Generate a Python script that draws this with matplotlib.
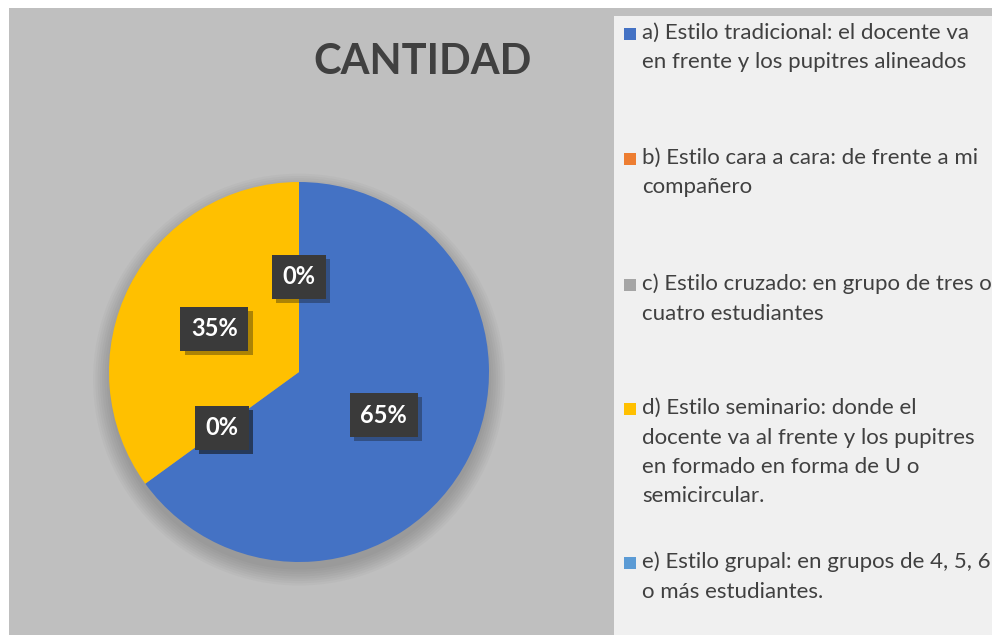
import numpy as np
import matplotlib.pyplot as plt
from matplotlib.patches import Rectangle, Circle
import matplotlib.patheffects as pe

plt.rcParams['font.family'] = ['Lato', 'DejaVu Sans']

# ---- data ----
categorias = [
    "a) Estilo tradicional: el docente va\nen frente y los pupitres alineados",
    "b) Estilo cara a cara: de frente a mi\ncompañero",
    "c) Estilo cruzado: en grupo de tres o\ncuatro estudiantes",
    "d) Estilo seminario: donde el\ndocente va al frente y los pupitres\nen formado en forma de U o\nsemicircular.",
    "e) Estilo grupal: en grupos de 4, 5, 6\no más estudiantes.",
]
cantidad = [13, 0, 0, 7, 0]
colores = ["#4472c4", "#ed7d31", "#a5a5a5", "#ffc000", "#5b9bd5"]
titulo = "CANTIDAD"

W, H = 992, 635
fig = plt.figure(figsize=(W / 100, H / 100), dpi=100, facecolor="white")

def px(x, y):
    return x / W, 1 - y / H

# background panels
fig.patches.append(Rectangle((9 / W, 0), 1, 1 - 8 / H, transform=fig.transFigure,
                             facecolor="#bfbfbf", edgecolor="none", zorder=-2))
fig.patches.append(Rectangle((614 / W, 0), 1, 1 - 16 / H, transform=fig.transFigure,
                             facecolor="#f0f0f0", edgecolor="none", zorder=-1))

# pie
cx, cy, r = 299, 372, 190
ax = fig.add_axes([(cx - r) / W, (H - cy - r) / H, 2 * r / W, 2 * r / H])
ax.set_facecolor("none")
ax.set_zorder(1)

# soft shadow
for k in range(8):
    ax.add_patch(Circle((0, -0.04), 1.0 + 0.012 * k, color="black",
                        alpha=0.025, zorder=0, lw=0, clip_on=False))

total = sum(cantidad)
wedges, _ = ax.pie(cantidad, colors=colores, startangle=90, counterclock=False,
                   radius=1, wedgeprops=dict(linewidth=0))
for w in wedges:
    w.set_zorder(2)

# data labels
ang = 90.0
for v in cantidad:
    frac = v / total
    mid = np.deg2rad(ang - frac * 360 / 2)
    ang -= frac * 360
    x, y = 0.5 * np.cos(mid), 0.5 * np.sin(mid)
    ax.text(x, y, f"{round(frac * 100)}%", ha="center", va="center",
            fontsize=17, fontweight="bold", color="white", zorder=5,
            bbox=dict(boxstyle="square,pad=0.45", facecolor="#3a3a3a",
                      edgecolor="none",
                      path_effects=[pe.withSimplePatchShadow(offset=(3, -3), alpha=0.35)]))

ax.set_xlim(-1, 1)
ax.set_ylim(-1, 1)
ax.set_aspect("equal")
ax.axis("off")

# title
fig.text(*px(423, 62), titulo, ha="center", va="center", fontsize=30,
         fontweight="bold", color="#404040")

# legend
ys = [33, 158, 284, 408, 562]
line_h = 29.5
for c, lab, y0 in zip(colores, categorias, ys):
    fig.patches.append(Rectangle(((624) / W, 1 - (y0 + 7) / H), 12 / W, 12 / H,
                                 transform=fig.transFigure, facecolor=c,
                                 edgecolor="none", zorder=3))
    for i, line in enumerate(lab.split("\n")):
        fig.text(*px(642, y0 + i * line_h), line, ha="left", va="center",
                 fontsize=16, color="#404040")

fig.savefig("out.png", dpi=100, facecolor=fig.get_facecolor())
